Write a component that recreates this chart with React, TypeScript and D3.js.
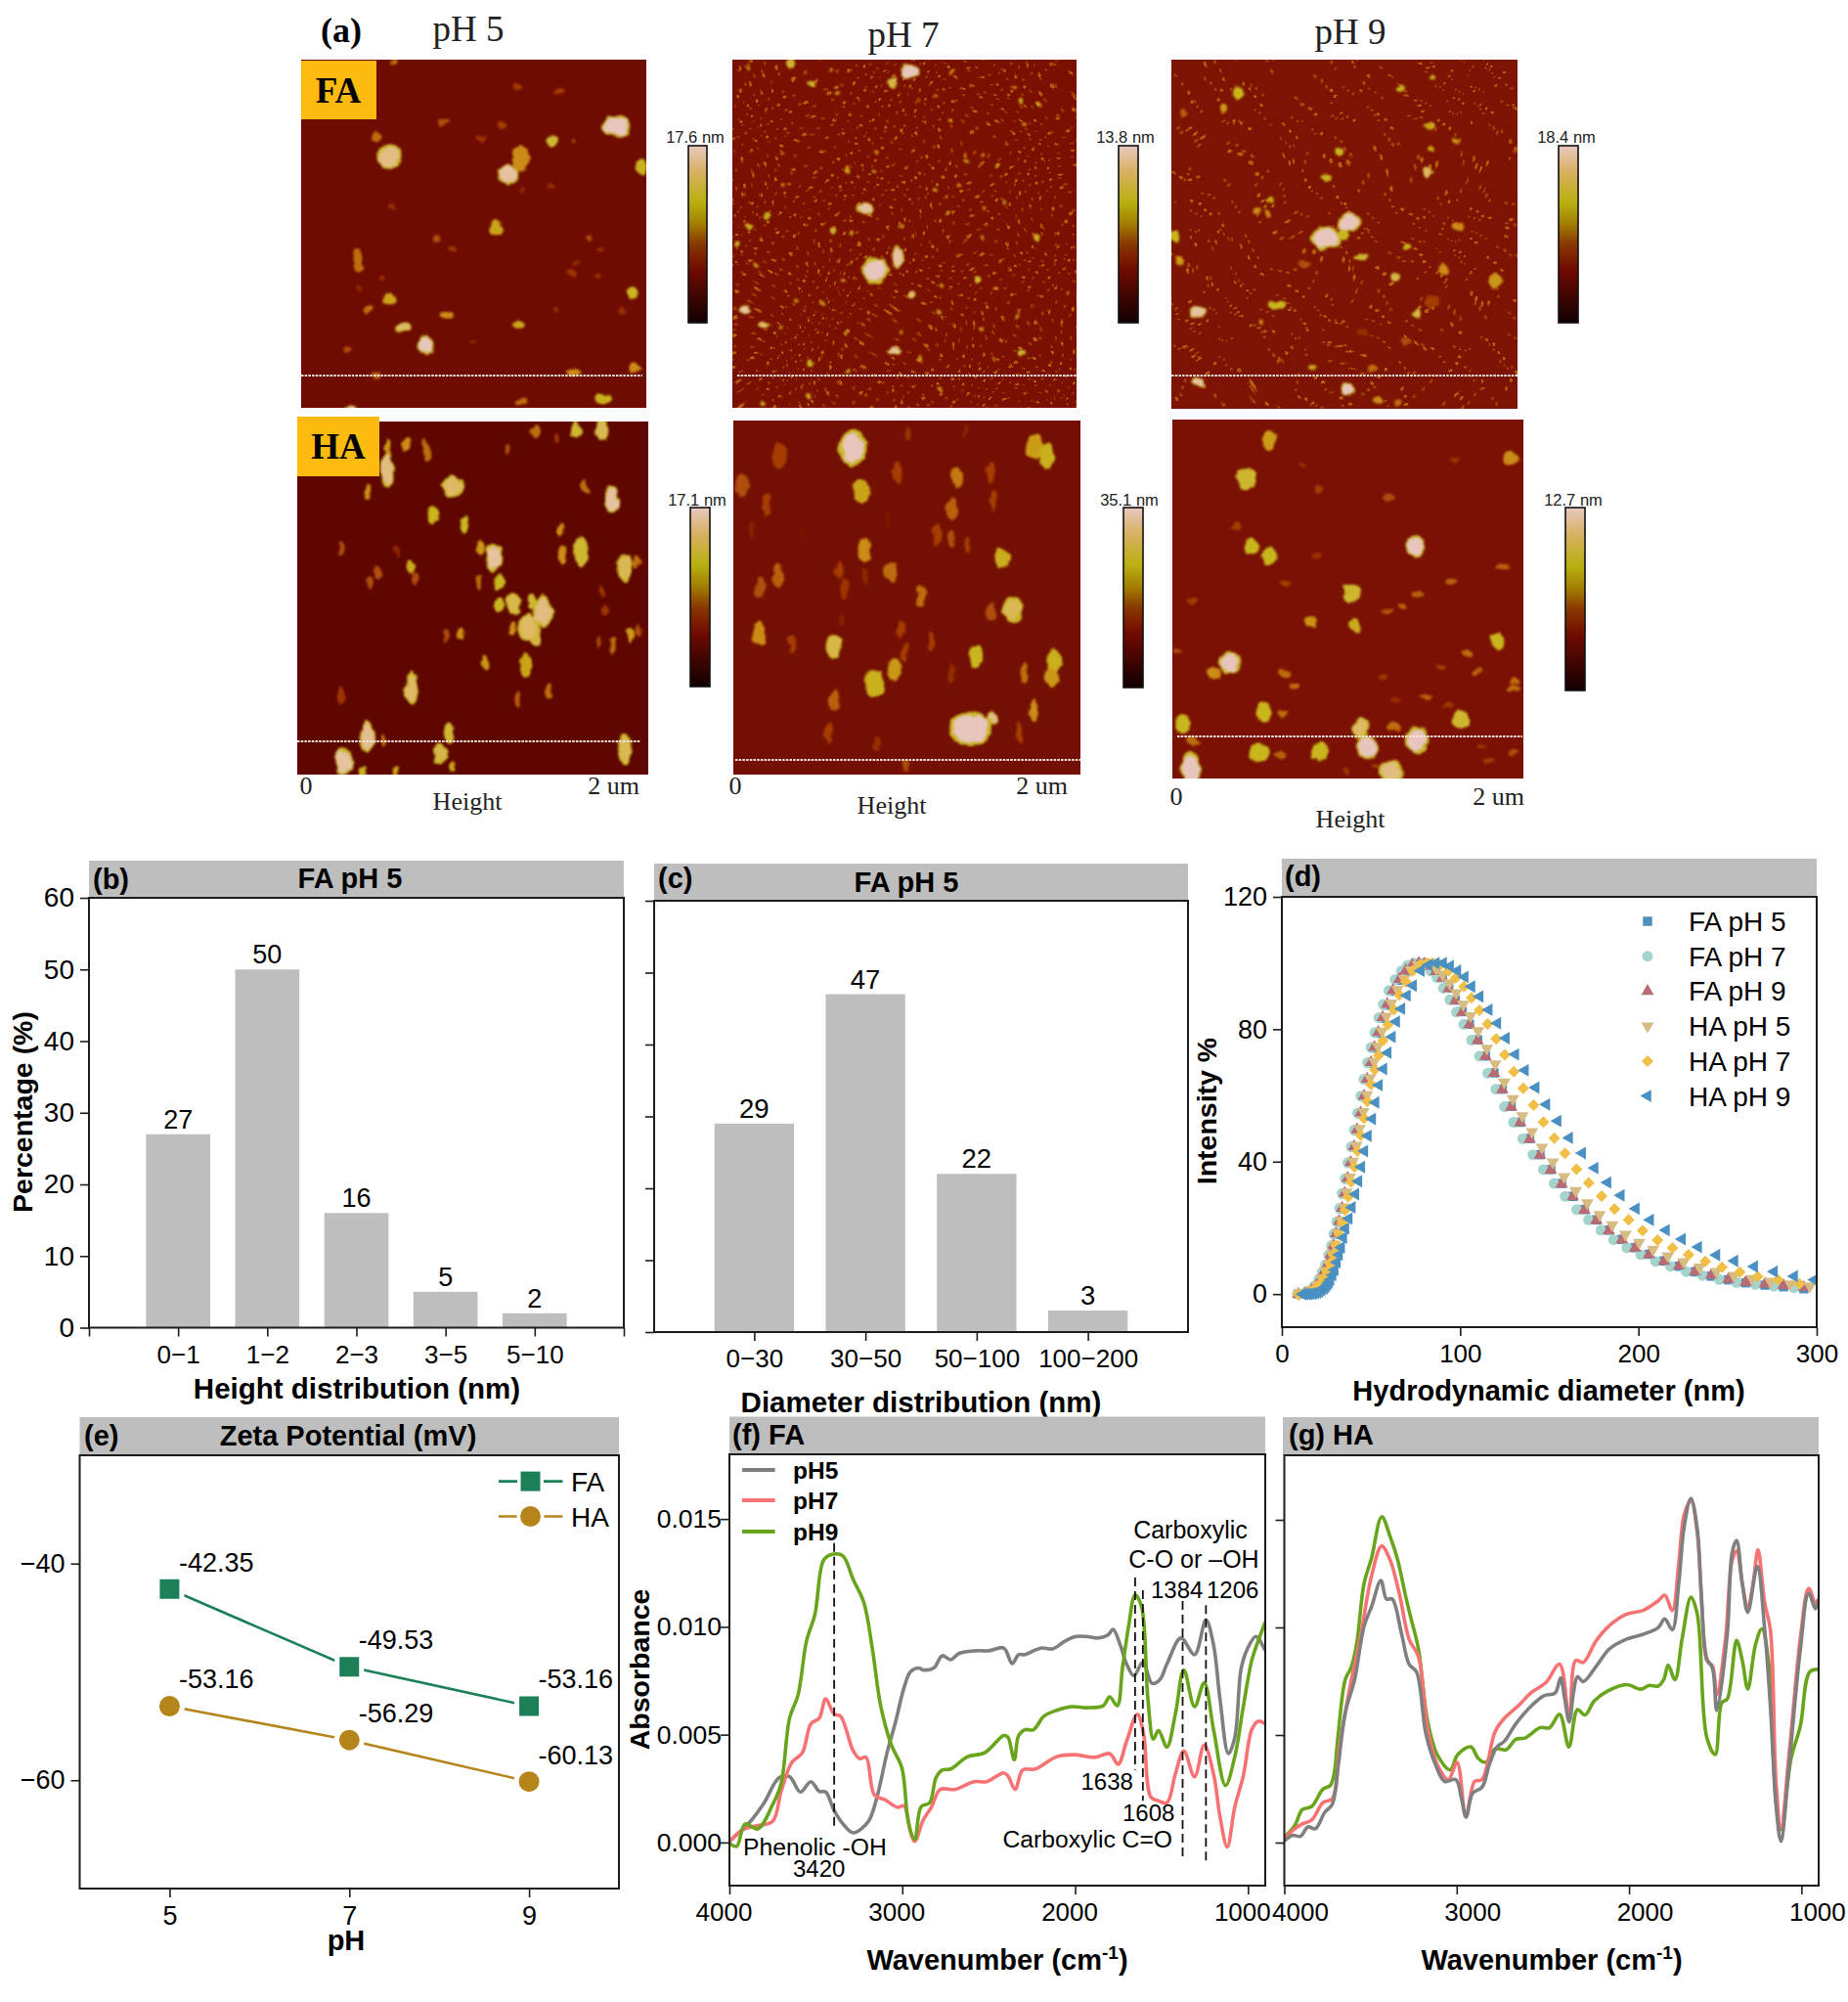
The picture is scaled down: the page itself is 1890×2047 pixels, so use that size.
import React, { useEffect, useRef } from 'react';
import * as d3 from 'd3';

const SANS = '"Liberation Sans", Arial, sans-serif';
const SERIF = '"Liberation Serif", "Times New Roman", serif';
const HEADER = '#bebebe';
const INK = '#1c1c1c';

// --- (b) (c) bars ---
const heightBins = ['0\u22121', '1\u22122', '2\u22123', '3\u22125', '5\u221210'];
const heightPct = [27, 50, 16, 5, 2];
const diamBins = ['0\u221230', '30\u221250', '50\u2212100', '100\u2212200'];
const diamPct = [29, 47, 22, 3];

// --- (d) DLS ---
const faDiam = [9.2, 12.8, 16.4, 19.3, 21.7, 23.7, 25.6, 27.3, 29, 30.4, 32.1, 33.8, 35.2, 36.9, 38.6, 40.5, 42.2, 44.2, 46.1, 47.8, 50, 51.9, 54.1, 56.5, 59.1, 62.3, 65.9, 69.5, 73.1, 76.8, 79.9, 83, 86.4, 90, 93.6, 97.3, 101.1, 105.2, 109.8, 114.2, 119, 123.6, 128.6, 133.7, 139, 144.8, 150.8, 156.9, 163.2, 169.7, 176.4, 183.4, 190.7, 198.1, 205.9, 214.3, 222.8, 231.7, 240.9, 250.5, 260.2, 271, 281.4, 292.8];
const faPh9Int = [0, 0.2, 1.1, 2.5, 4.5, 6.8, 9, 11.9, 14.7, 18.3, 22, 26, 30.5, 35, 39.8, 44.6, 49.7, 54.8, 59.9, 65, 70, 74.6, 79.1, 83.6, 87.6, 91.8, 95.1, 97.7, 99.4, 100, 99.8, 99.1, 97.5, 95.5, 92.3, 88.7, 85.1, 81.4, 76.6, 71.8, 66.7, 61.8, 56.5, 51.8, 46.8, 42, 37.5, 33.3, 29.4, 25.4, 22.3, 19.2, 16.4, 13.9, 11.9, 9.9, 8.5, 6.8, 5.7, 4.5, 3.6, 3.1, 2.6, 2];
const faPh5Int = [0, 0.1, 0.9, 2.3, 4.2, 6.5, 8.7, 11.6, 14.4, 18, 21.7, 25.7, 30.2, 34.7, 39.5, 44.3, 49.4, 54.5, 59.6, 64.7, 69.7, 74.3, 78.8, 83.3, 87.3, 91.5, 94.8, 97.4, 99.2, 99.9, 100, 99.2, 97.7, 95.6, 92.5, 88.8, 85.3, 81.5, 76.8, 71.9, 66.8, 61.9, 56.7, 51.9, 47, 42.1, 37.6, 33.4, 29.5, 25.5, 22.4, 19.3, 16.5, 14, 12, 10, 8.4, 6.7, 5.4, 4.3, 3.4, 2.7, 2.2, 1.6];
const fa7Diam = [8.8, 12.2, 15.6, 18.4, 20.7, 22.7, 24.5, 26.2, 27.8, 29.2, 30.8, 32.4, 33.8, 35.4, 37, 38.9, 40.6, 42.5, 44.3, 46, 48.1, 50, 52.1, 54.4, 56.9, 60, 63.5, 67, 70.5, 74.1, 77.1, 80.2, 83.5, 87, 90.6, 94.2, 97.9, 102, 106.4, 110.8, 115.5, 120, 124.9, 129.9, 135.1, 140.8, 146.7, 152.7, 158.9, 165.4, 172, 178.9, 186.1, 193.5, 201.3, 209.6, 218, 226.8, 235.9, 245.4, 255, 265.6, 276, 287.3];
const faPh7Int = [0, 0.2, 1, 2.4, 4.4, 6.7, 8.9, 11.8, 14.6, 18.2, 21.9, 25.9, 30.4, 34.9, 39.7, 44.5, 49.6, 54.7, 59.8, 64.9, 69.9, 74.5, 79, 83.5, 87.5, 91.7, 95, 97.6, 99.3, 100, 99.9, 99.2, 97.6, 95.6, 92.4, 88.9, 85.2, 81.5, 76.7, 71.9, 66.7, 61.9, 56.6, 51.9, 46.9, 42.1, 37.6, 33.4, 29.5, 25.5, 22.4, 19.3, 16.4, 14, 11.9, 9.9, 8.4, 6.8, 5.6, 4.4, 3.5, 2.9, 2.4, 1.9];
const ha5Diam = [9.5, 13.2, 16.9, 19.9, 22.4, 24.4, 26.4, 28.1, 29.9, 31.4, 33.1, 34.9, 36.3, 38.1, 39.9, 41.8, 43.6, 45.7, 47.7, 49.5, 51.8, 53.8, 56.1, 58.6, 61.4, 64.8, 68.6, 72.4, 76.2, 80, 83.3, 86.6, 90.2, 94, 97.8, 101.7, 105.8, 110.1, 115, 119.7, 124.7, 129.6, 134.9, 140.3, 145.9, 152, 158.3, 164.8, 171.4, 178.2, 185.3, 192.7, 200.4, 208.2, 216.5, 225.4, 234.3, 243.7, 253.5, 263.7, 273.9, 285.2, 296.2];
const haPh5Int = [0, 0.2, 1.2, 2.7, 4.8, 7.1, 9.3, 12.2, 15, 18.6, 22.3, 26.3, 30.8, 35.3, 40.1, 44.9, 50, 55.1, 60.2, 65.3, 70.3, 74.9, 79.4, 83.9, 87.9, 92, 95.3, 97.9, 99.5, 100, 99.8, 98.3, 96.5, 94, 91, 87.5, 84, 79.5, 74.2, 69.5, 64, 59, 53.8, 49, 44.3, 39.9, 35.4, 31.2, 27.5, 24, 20.9, 18, 15.6, 13.5, 11.5, 9.7, 8.1, 6.8, 5.6, 4.6, 3.8, 3, 2.4];
const haPh7: [number, number][] = [[9.2, 0], [12.8, 0.2], [16.4, 0.9], [19.3, 2], [21.7, 3.4], [23.7, 5.1], [25.6, 7], [27.3, 9.3], [29, 11.9], [30.4, 14.7], [32.1, 18.1], [33.8, 21.5], [35.5, 25.4], [37.2, 29.4], [38.9, 33.9], [40.8, 38.4], [42.5, 43.2], [44.2, 48], [46.1, 53.1], [48, 58.2], [50, 63.3], [52.1, 67.8], [54.3, 72.1], [56.7, 76.6], [59.4, 81.4], [62.8, 85.9], [65.9, 90.4], [69.5, 94.4], [73.6, 97.7], [78, 99.4], [81.6, 100], [84.7, 100], [88.8, 99.4], [93.6, 97.7], [97.5, 95.5], [102.1, 92.9], [106.4, 89.5], [110.8, 85.7], [115.4, 81.6], [120.2, 77.1], [125, 72.3], [130.1, 67.2], [135.4, 62.2], [141.2, 57.1], [146.7, 52], [152.8, 47.1], [158.8, 42.5], [165.3, 37.7], [172.1, 33.6], [179.3, 29.6], [186.6, 25.7], [194.5, 22.4], [202.3, 19.2], [210.7, 16.3], [219.1, 13.9], [228.1, 11.9], [237.5, 9.9], [246.9, 8.1], [256.8, 6.6], [266.9, 5.3], [278.3, 4.3], [290.3, 3.1]];
const haPh9: [number, number][] = [[11.6, 0], [12.8, 0], [14, 0], [15.2, 0], [16.4, 0.1], [17.6, 0.2], [18.8, 0.3], [20, 0.5], [21.2, 0.8], [22.4, 1.2], [23.7, 1.7], [24.6, 2.2], [25.6, 2.8], [26.4, 3.5], [27.3, 4.3], [28.5, 5.7], [29.7, 7.3], [30.9, 9.6], [32.1, 11.9], [33.3, 14.1], [34.5, 17], [35.7, 19.8], [37.6, 22.8], [39.3, 26.2], [41.3, 30.2], [43, 34.1], [44.6, 38.4], [46.3, 43.2], [48.3, 47.8], [50.7, 52.9], [52.6, 57.9], [54.5, 63.1], [57, 68], [59.4, 72.9], [61.8, 77.7], [64.2, 82.3], [67.1, 86.2], [70.2, 90.2], [73.6, 93.2], [78, 97.7], [82.3, 99.4], [86.4, 100], [90.5, 100], [94.4, 99.1], [98.5, 97.7], [102.6, 95.8], [106.4, 92.9], [111, 89.9], [116.1, 85.9], [120.9, 81.8], [125.7, 77.3], [131, 72.4], [136.4, 67.6], [142.4, 62.4], [148.4, 57.3], [154.7, 52.3], [161.2, 47.2], [168.5, 42.6], [175.5, 38.1], [182.7, 33.7], [190.2, 29.8], [198.6, 25.8], [206.6, 22.4], [215.5, 19.3], [224.5, 16.6], [233.6, 14.2], [243.8, 11.8], [253.9, 10], [265, 8.3], [276.1, 6.8], [287.4, 5.4], [298.8, 4.3]];
const dlsNames = ['FA pH 5', 'FA pH 7', 'FA pH 9', 'HA pH 5', 'HA pH 7', 'HA pH 9'];

// --- (e) zeta ---
const phLevels = [5, 7, 9];
const zetaFA = [-42.35, -49.53, -53.16];
const zetaHA = [-53.16, -56.29, -60.13];

// --- (f) FA spectra: [wavenumber, absorbance x 1000] ---
const fPh5: [number, number][] = [[4000, 0.05], [3872, 1.04], [3799, 1.84], [3713, 3], [3652, 3.05], [3590, 2.34], [3529, 2.82], [3480, 2.37], [3443, 2.34], [3394, 1.48], [3333, 0.77], [3284, 0.45], [3198, 0.95], [3149, 2.02], [3088, 4.16], [3039, 5.59], [2989, 7.2], [2953, 7.91], [2904, 8.09], [2879, 8], [2818, 8.09], [2769, 8.66], [2720, 8.48], [2671, 8.77], [2572, 8.89], [2499, 8.89], [2413, 9.02], [2364, 8.3], [2327, 8.71], [2290, 8.71], [2241, 8.89], [2192, 9.02], [2131, 8.98], [2057, 9.34], [1996, 9.55], [1935, 9.55], [1873, 9.48], [1812, 9.61], [1780, 9.88], [1739, 9.16], [1702, 8.27], [1660, 7.73], [1608, 8.36], [1555, 7.38], [1510, 7.55], [1469, 8.27], [1388, 9.48], [1309, 8.71], [1243, 10.32], [1199, 9.16], [1162, 6.66], [1113, 4.12], [1076, 4.88], [1039, 8.09], [1003, 8.98], [954, 9.55], [900, 8.89]];
const fPh7: [number, number][] = [[4000, 0.05], [3922, 0.59], [3848, 0.77], [3750, 0.98], [3701, 2.37], [3639, 3.71], [3578, 4.16], [3529, 5.5], [3480, 5.77], [3443, 6.66], [3394, 5.95], [3357, 5.86], [3284, 4.25], [3247, 3.89], [3210, 3.95], [3161, 2.2], [3100, 1.98], [3026, 1.63], [2989, 1.7], [2953, 0.5], [2928, 0.05], [2879, 1.04], [2830, 1.66], [2781, 2.46], [2695, 2.46], [2585, 2.82], [2511, 2.82], [2413, 3.23], [2389, 3.09], [2347, 2.46], [2303, 3.36], [2229, 3.41], [2106, 3.98], [2008, 4.07], [1886, 3.95], [1800, 4.12], [1751, 3.63], [1702, 4.7], [1640, 5.95], [1604, 5.05], [1562, 2.11], [1518, 1.93], [1469, 1.84], [1420, 3.18], [1371, 4.25], [1309, 3.05], [1253, 4.52], [1199, 3.18], [1162, 1.21], [1120, -0.21], [1076, 1.66], [1027, 3.09], [978, 5.23], [941, 5.62], [900, 5.5]];
const fPh9: [number, number][] = [[4000, -0.04], [3958, -0.18], [3909, 0.86], [3836, 0.63], [3750, 1.75], [3701, 2.73], [3652, 5.77], [3603, 6.84], [3554, 9.34], [3505, 10.59], [3455, 13.09], [3406, 13.36], [3345, 13.3], [3284, 12.2], [3222, 11.12], [3173, 8.98], [3124, 6.3], [3063, 4.52], [3002, 3.45], [2965, 0.95], [2928, 0.14], [2891, 1.66], [2842, 1.84], [2805, 3], [2769, 3.36], [2720, 3.41], [2622, 3.98], [2523, 4.16], [2413, 4.96], [2389, 4.88], [2352, 3.84], [2327, 4.96], [2290, 5.23], [2241, 5.23], [2180, 5.86], [2106, 6.13], [2021, 6.3], [1935, 6.25], [1837, 6.34], [1800, 6.75], [1756, 6.34], [1726, 8.09], [1690, 10.05], [1653, 11.48], [1616, 10.95], [1579, 6.66], [1547, 4.79], [1518, 5.2], [1469, 4.43], [1420, 5.95], [1371, 8], [1309, 6.3], [1253, 7.41], [1199, 5.23], [1130, 2.64], [1076, 3.98], [1027, 6.3], [978, 8.45], [941, 9.34], [900, 10.23]];

// --- (g) HA spectra ---
const gPh5: [number, number][] = [[4000, 0.07], [3950, 0.34], [3907, 0.29], [3863, 0.73], [3820, 0.64], [3765, 1.41], [3722, 1.77], [3689, 3.46], [3646, 6.05], [3592, 7.57], [3537, 10.07], [3494, 10.96], [3440, 12.18], [3407, 11.32], [3374, 11.32], [3320, 9.71], [3276, 8.29], [3233, 7.93], [3179, 5.07], [3124, 3.64], [3070, 2.84], [3005, 2.93], [2972, 2.04], [2946, 1.18], [2907, 2.3], [2853, 2.57], [2810, 3.64], [2766, 4.45], [2723, 4.71], [2657, 5.52], [2571, 6.32], [2494, 6.82], [2429, 6.95], [2397, 7.66], [2375, 6.77], [2347, 5.61], [2321, 7.04], [2299, 7.71], [2266, 7.48], [2190, 8.2], [2114, 9], [2016, 9.45], [1919, 9.68], [1832, 9.98], [1793, 10.39], [1749, 9.89], [1712, 12.03], [1680, 14.7], [1641, 16], [1604, 14.55], [1582, 11.68], [1549, 8.55], [1516, 8.11], [1491, 6.14], [1430, 9.71], [1402, 13.47], [1376, 14.04], [1343, 12.03], [1311, 10.7], [1256, 12.84], [1213, 9.89], [1180, 6.32], [1147, 1.68], [1119, 0.07], [1071, 3.64], [1006, 9], [958, 11.59], [919, 10.87], [900, 11.32]];
const gPh7: [number, number][] = [[4000, 0.16], [3950, 0.57], [3896, 0.87], [3841, 1.05], [3776, 1.86], [3722, 2.04], [3678, 4.53], [3624, 7.03], [3559, 9.52], [3494, 12.39], [3435, 13.78], [3385, 13.11], [3331, 11.5], [3276, 9.45], [3222, 8.64], [3168, 5.25], [3113, 3.64], [3048, 2.93], [2998, 3.73], [2946, 1.23], [2896, 2.84], [2853, 2.93], [2777, 5.16], [2723, 5.78], [2636, 6.41], [2571, 6.95], [2483, 7.43], [2403, 8.29], [2347, 5.78], [2310, 8.46], [2266, 8.37], [2190, 9.39], [2103, 10.16], [2016, 10.61], [1919, 10.79], [1832, 11.23], [1793, 11.5], [1749, 10.79], [1712, 12.93], [1680, 15.25], [1641, 15.89], [1604, 14.37], [1576, 10.79], [1549, 8.46], [1516, 8.2], [1491, 6.86], [1441, 9.45], [1402, 13.11], [1376, 13.56], [1343, 12.03], [1311, 10.88], [1278, 12.2], [1252, 13.61], [1213, 11.14], [1180, 9.89], [1147, 2.75], [1119, 0.7], [1071, 4.17], [1006, 9.54], [958, 11.82], [919, 11.14], [900, 11.32]];
const gPh9: [number, number][] = [[4000, 0.25], [3939, 0.79], [3896, 1.53], [3841, 1.68], [3776, 2.48], [3733, 2.66], [3711, 3.2], [3689, 4.9], [3646, 7.59], [3613, 8.12], [3581, 9.2], [3537, 12.06], [3494, 13.22], [3435, 15.14], [3385, 14.2], [3342, 13.13], [3298, 11.52], [3266, 10.45], [3222, 9], [3168, 5.61], [3113, 4.09], [3038, 3.38], [2994, 4.09], [2918, 4.45], [2875, 3.91], [2831, 3.73], [2777, 4.36], [2712, 4.32], [2657, 4.8], [2603, 4.86], [2516, 5.34], [2462, 5.34], [2403, 5.96], [2349, 4.45], [2299, 6.18], [2256, 5.93], [2201, 6.59], [2125, 7.04], [2016, 7.34], [1930, 7.13], [1886, 7.3], [1832, 7.27], [1799, 7.57], [1773, 8.25], [1734, 7.57], [1691, 9.54], [1641, 11.41], [1604, 10.61], [1549, 4.89], [1500, 4.09], [1462, 6.5], [1430, 6.68], [1376, 9.39], [1343, 8.46], [1311, 7.13], [1267, 9.18], [1230, 9.93], [1191, 8.46], [1147, 1.86], [1119, 0.61], [1060, 3.91], [1006, 5.43], [952, 7.93], [900, 8.05]];
const absorbTicks = [0, 5, 10, 15];
const waveTicks = [4000, 3000, 2000, 1000];
const specNames = ['pH5', 'pH7', 'pH9'];

// --- (a) AFM particles: [x %, y %, rx %, ry %, height 0..1] ---
type Blob = [number, number, number, number, number];
const afmFa5: Blob[] = [[91, 19.2, 4.3, 3.1, 1], [25.6, 28, 3.7, 3.4, 0.9], [60, 33, 3, 2.8, 0.95], [63.6, 28.6, 2.3, 3.5, 0.55], [72.7, 23.2, 1.8, 1.5, 0.75], [56.4, 48.4, 1.7, 2.3, 0.65], [16.3, 57.7, 1.7, 3.5, 0.5], [25.6, 68.7, 1.8, 1.7, 0.65], [95.8, 66.7, 1.8, 1.8, 0.72], [29.6, 76.8, 2, 1.5, 0.85], [36, 81.9, 2.4, 2.7, 1], [63.3, 76.2, 1.8, 1.3, 0.65], [42.3, 73.2, 1.6, 1.2, 0.55], [19.2, 71.8, 1.5, 1.1, 0.5], [98.7, 30.5, 1.4, 2.5, 0.7], [87.4, 97.4, 2.4, 1.6, 0.7], [78.8, 90, 1.9, 1.4, 0.55], [96.8, 88.7, 1.8, 1.1, 0.55], [21.7, 90.8, 1.3, 1, 0.5], [13.1, 83.4, 1.5, 1, 0.45], [21.8, 22.3, 1.6, 1.2, 0.5], [41.2, 18.1, 1.4, 1.1, 0.45], [58.2, 18.8, 1.2, 0.9, 0.42], [62.8, 7.8, 1.3, 1, 0.42], [74.7, 9.4, 1.3, 0.9, 0.42], [27, 1, 1.2, 0.9, 0.5], [78.7, 23.5, 1, 0.7, 0.42], [52, 22.5, 1, 0.8, 0.4], [26, 42, 1.1, 0.8, 0.38], [39.3, 51.6, 1.2, 1, 0.45], [43.8, 54.6, 1.2, 0.8, 0.42], [83.5, 50.9, 1, 1, 0.45], [86.7, 54.7, 1, 0.7, 0.4], [79.5, 58.5, 0.9, 0.7, 0.38], [78.3, 61.3, 1.4, 1, 0.4], [85.9, 62.3, 1, 0.7, 0.38], [23.8, 62.9, 1, 0.8, 0.4], [16.9, 65.5, 0.9, 0.7, 0.36], [73.7, 72, 1, 0.8, 0.38], [92.8, 72.3, 1, 0.8, 0.38], [63.6, 98.3, 1.8, 1, 0.5], [14.5, 99.8, 1.8, 0.8, 0.9], [49.9, 81, 1, 0.7, 0.36], [72, 36.4, 1, 0.8, 0.38], [63.6, 37.6, 1, 0.7, 0.36]];
const afmFa7: Blob[] = [[41.4, 60.6, 4.4, 3.8, 1], [48, 56.9, 1.8, 3.2, 0.95], [38.5, 42.8, 2.6, 1.9, 0.95], [51.2, 3.3, 2.7, 2, 1], [52.3, 67.4, 1.5, 1.2, 0.85], [47.2, 83.9, 2, 1.3, 0.95], [3.7, 71.7, 1.8, 1.4, 0.95], [9, 76.1, 1.7, 1.2, 0.85], [46.5, 6.7, 1.2, 1.5, 0.8], [23.3, 7, 1.1, 0.9, 0.75], [17, 1.1, 1.2, 1.2, 0.75], [71.4, 63.4, 1.2, 0.7, 0.75], [29.3, 49.4, 0.9, 1.3, 0.75], [83.8, 12.1, 0.9, 1, 0.7], [88.4, 51.3, 0.9, 1, 0.7], [84.1, 84.5, 0.9, 0.9, 0.75], [22.6, 87.3, 0.9, 1, 0.7], [10, 44.9, 0.9, 0.8, 0.7], [4.6, 48, 1.1, 0.7, 0.7], [1.4, 53.1, 0.9, 0.8, 0.7], [33.5, 31.6, 0.5, 1.2, 0.65],
  [41.8, 26.9, 0.7, 0.7, 0.62], [14.2, 27.1, 0.6, 0.5, 0.6], [14.8, 36.1, 0.7, 0.7, 0.62], [41.5, 32, 0.6, 0.6, 0.6], [62.8, 44.4, 0.6, 0.6, 0.6], [73.3, 42.1, 0.6, 0.6, 0.6], [78.7, 41.1, 0.6, 0.6, 0.58], [49.4, 47.8, 0.7, 0.7, 0.62], [34.9, 50.1, 0.6, 0.6, 0.6], [7.1, 58.9, 0.7, 0.6, 0.62], [32.3, 63.6, 0.7, 0.7, 0.62], [60.2, 64.7, 0.6, 0.7, 0.6], [76.1, 65.8, 0.7, 0.5, 0.6], [26.4, 70.2, 0.6, 0.7, 0.62], [18.5, 69.8, 0.6, 0.6, 0.58], [82.7, 73.6, 0.6, 0.6, 0.6], [60.2, 72.6, 0.6, 0.6, 0.6], [14.2, 77, 0.7, 0.6, 0.62], [32.7, 78.6, 0.7, 0.7, 0.64], [48.9, 78, 0.6, 0.7, 0.62], [72.2, 77.7, 0.6, 0.6, 0.6], [54.3, 85.9, 0.6, 0.7, 0.62], [76.1, 85.8, 0.6, 0.6, 0.6], [33.8, 89.7, 0.7, 0.7, 0.65], [60.2, 94.8, 0.6, 0.7, 0.62], [8.8, 98.6, 0.7, 0.6, 0.65], [22.6, 96.7, 0.7, 0.8, 0.62], [63, 18, 0.6, 0.6, 0.62], [82, 8.3, 0.6, 0.7, 0.62], [89.2, 13.3, 0.7, 0.7, 0.62], [72.6, 26.9, 0.7, 0.5, 0.6], [77, 30.5, 0.7, 0.6, 0.6], [68.2, 29.2, 0.6, 0.6, 0.58], [58.8, 37.2, 0.6, 0.7, 0.6], [66, 35.8, 0.9, 0.5, 0.55], [72.5, 51.3, 0.6, 0.6, 0.58], [59.4, 10, 0.6, 0.6, 0.58], [30.5, 9.6, 0.5, 0.6, 0.58], [53.7, 11, 0.5, 0.6, 0.55], [63.9, 3.7, 0.5, 0.7, 0.6], [28.4, 2.7, 0.6, 0.6, 0.6], [4.6, 2, 0.7, 0.6, 0.62], [85, 18.5, 0.6, 0.6, 0.58]];
const afmFa9: Blob[] = [[44.6, 51.1, 4.6, 3.3, 1], [51.3, 46.6, 3.3, 2.8, 1], [50, 50.2, 1.2, 1.5, 0.72], [7.6, 72.4, 2.3, 1.5, 0.95], [7.6, 92.4, 1.8, 1.5, 0.95], [50.8, 94.3, 2.1, 1.9, 1], [30.7, 70.3, 2.8, 1.3, 0.72], [54.9, 56.4, 2, 1.1, 0.75], [64.7, 62.1, 1.4, 1.4, 0.8], [70.7, 72.6, 1.3, 1.5, 0.8], [74.3, 32, 1.4, 1.5, 0.85], [44.6, 33.8, 1.7, 1.2, 0.7], [19.2, 9.5, 1.6, 1.9, 0.72], [15.1, 13.9, 1, 1.5, 0.6], [93.5, 63.3, 1.9, 2, 0.6], [78.7, 60, 1.3, 2, 0.55], [83, 47.9, 1.8, 1.4, 0.55], [74.7, 18.9, 1.5, 1.1, 0.65], [75.4, 5.3, 1.2, 1, 0.65], [66.2, 8.3, 1, 0.9, 0.72], [48.4, 26.4, 1.1, 1, 0.72], [68.2, 53.2, 1.1, 1, 0.72], [75.2, 25.7, 0.8, 0.8, 0.65], [82.1, 23.3, 1.3, 0.9, 0.55], [1.1, 50.2, 1.4, 1.8, 0.72], [2.2, 57.4, 1.1, 0.9, 0.6], [3.5, 15.1, 1.2, 1.1, 0.48], [28.3, 40.1, 1, 0.9, 0.65], [24.7, 43.6, 1.1, 1, 0.55], [28, 44.1, 0.9, 1, 0.55], [38.3, 58.6, 1.5, 1.2, 0.45], [59.5, 97.4, 1.4, 1.2, 0.55], [65.4, 98, 1.2, 1, 0.5], [40.8, 88, 1, 0.9, 0.65], [58.4, 88.5, 1.6, 1, 0.5], [75.2, 69.3, 2.2, 1.8, 0.42], [67.4, 80.6, 1.4, 1, 0.45], [55.1, 78.2, 1.5, 1.2, 0.38], [26.3, 75.4, 0.8, 0.8, 0.55]];
const afmHa5: Blob[] = [[44.4, 18.5, 3, 3, 0.85], [25.6, 13.7, 2, 5, 0.9], [89.6, 22, 2.2, 4, 0.95], [38.7, 26.1, 1.5, 2.6, 0.72], [47.6, 29.2, 1.3, 2.5, 0.72], [56.1, 38.6, 2.5, 4, 0.95], [52.3, 35.8, 1.4, 2, 0.6], [57.6, 45.5, 1.5, 2.5, 0.72], [80.8, 36.8, 2.2, 4, 0.75], [75.5, 38.1, 1.2, 2.5, 0.55], [93.3, 41.4, 2.2, 4, 0.82], [32.3, 41.2, 1.2, 2, 0.68], [23, 42.8, 1, 2, 0.45], [33.5, 44.6, 0.9, 2, 0.45], [21, 45.5, 1, 2, 0.45], [61.5, 51.5, 2.2, 3, 0.8], [57.3, 52.2, 1.6, 2.4, 0.72], [66.8, 51, 1.4, 2.2, 0.75], [70, 53.6, 2.8, 4.5, 0.9], [65.8, 58.4, 2.8, 4, 0.85], [67.7, 60.8, 1.8, 2.6, 0.78], [61.5, 58.9, 1, 2, 0.55], [46.9, 60.3, 1.1, 2, 0.55], [42.3, 60.8, 0.9, 2, 0.45], [65.1, 69, 1.8, 3.2, 0.65], [53.4, 68.3, 1.1, 2.2, 0.6], [32.6, 75.5, 2, 4.5, 0.85], [71.8, 76.6, 1, 2.2, 0.5], [62.7, 78.8, 1, 2.2, 0.48], [12.4, 77.4, 1.1, 2.5, 0.4], [19.8, 89.4, 2.2, 4.5, 0.92], [13.1, 96.3, 2.4, 4, 0.95], [43.3, 88, 1.6, 2.8, 0.75], [40.6, 94, 2, 3.2, 0.8], [93.3, 92.6, 1.9, 4.2, 0.82], [18.5, 99, 1, 1.5, 0.7], [44.2, 97.7, 1, 1.7, 0.65], [24.8, 90.3, 0.8, 1.8, 0.5], [28.3, 99, 0.8, 1.2, 0.65], [12.4, 35.8, 0.8, 1.8, 0.45], [28.5, 36.9, 0.7, 1.6, 0.35], [20.2, 20, 1.1, 2.2, 0.55], [25.6, 7.4, 1, 2.4, 0.6], [30.9, 6.3, 1.3, 2.2, 0.55], [36.6, 7, 1, 2.6, 0.5], [37.3, 9.5, 1, 2, 0.5], [67.9, 3, 1.2, 1.8, 0.5], [79.3, 2.4, 1.3, 2.4, 0.75], [86.7, 2.6, 2, 3, 0.82], [59.8, 7.7, 0.8, 1.8, 0.45], [73.6, 4.9, 0.6, 1.5, 0.4], [81.9, 18.3, 0.9, 2, 0.5], [75.1, 30.7, 0.8, 2, 0.55], [96.7, 40, 1, 2, 0.5], [86.9, 48.3, 0.6, 1.8, 0.4], [87.9, 53.4, 0.8, 1.8, 0.4], [95, 60.3, 1.2, 2.2, 0.6], [89.7, 63.5, 1, 2.4, 0.5], [86, 62.4, 0.7, 1.6, 0.45], [97.2, 58.9, 0.7, 1.8, 0.45], [51.8, 45.5, 0.8, 2, 0.5]];
const afmHa7: Blob[] = [[34.5, 7.7, 4, 5, 1], [37.1, 20, 2.3, 3.5, 0.65], [86.8, 7.4, 2.5, 3.5, 0.62], [90.4, 10, 2.2, 3.5, 0.7], [68.3, 87, 6, 5, 1], [74.5, 84.2, 1.5, 2, 0.9], [80.7, 53.4, 3, 3.8, 0.82], [28.9, 63.9, 2.3, 3.4, 0.8], [69.9, 66.7, 2, 3.2, 0.72], [46.5, 70.4, 2, 3, 0.6], [40.6, 74.4, 2.8, 4, 0.7], [77.4, 38.7, 2.4, 3, 0.68], [37.8, 36.3, 1.9, 3.2, 0.55], [45.4, 42.8, 2, 3, 0.5], [7.6, 60.3, 2, 3.5, 0.55], [12.9, 43.7, 1.6, 3.5, 0.48], [7.6, 47, 1.4, 3, 0.45], [30.6, 42.3, 1.2, 2.5, 0.42], [32, 47.4, 1.2, 3, 0.4], [2.6, 18.4, 2, 3.4, 0.45], [13.4, 10.1, 2, 3.5, 0.42], [9.5, 23.9, 1.4, 3, 0.42], [47.2, 14.7, 1.4, 3, 0.42], [64.5, 16.1, 1.7, 3, 0.52], [63, 24.8, 1.8, 3.2, 0.48], [74.3, 14.7, 1.2, 3, 0.42], [74.9, 22.5, 1.2, 2.8, 0.42], [58.7, 32.2, 1.5, 3, 0.42], [62.7, 33.6, 1.1, 2.6, 0.45], [67.3, 35, 1, 2.5, 0.42], [54.1, 49.7, 1.4, 3, 0.5], [74.1, 53.8, 1.3, 3, 0.45], [48.3, 58.9, 1, 2.5, 0.42], [49.3, 64.9, 1, 2.8, 0.42], [57, 62.6, 0.9, 2.6, 0.42], [17, 63, 1.1, 2.8, 0.42], [29.2, 79.1, 1.4, 3, 0.48], [83.9, 71.3, 1.2, 3, 0.5], [86.8, 81.9, 1.4, 3, 0.55], [92.5, 68, 2, 3.5, 0.7], [91.8, 72.7, 2, 3, 0.6], [27.5, 88.3, 1.1, 3, 0.42], [50.1, 3.7, 1, 2.2, 0.4], [5.5, 31.1, 0.8, 2.5, 0.35], [63, 71.1, 0.8, 2.5, 0.38], [82.4, 88.3, 1, 3, 0.42], [41.4, 91, 0.9, 2.4, 0.38], [49.7, 97.5, 1, 1.6, 0.45], [66.6, 2.8, 0.7, 2, 0.35], [19.9, 32.2, 0.6, 2, 0.3], [44.3, 28.5, 0.7, 2, 0.32], [38, 44.1, 0.9, 2.4, 0.36], [31.4, 56.1, 0.7, 2, 0.34]];
const afmHa9: Blob[] = [[5.2, 97.4, 2.8, 4.8, 1], [16.3, 67.7, 3, 3.2, 1], [69.2, 35.3, 2.8, 3, 1], [69.8, 89.2, 3.6, 3.8, 1], [55.6, 91.2, 3, 3.4, 1], [62.2, 98, 3.5, 3, 0.9], [53.4, 86.2, 2.7, 2.8, 0.85], [21.2, 16.4, 2.8, 3, 0.75], [51, 48.2, 2.6, 2.8, 0.75], [92.8, 61.9, 2.3, 2.4, 0.72], [82.1, 83.5, 2.4, 2.6, 0.75], [26, 81.6, 2.2, 2.8, 0.72], [2.8, 84.6, 2.2, 2.6, 0.72], [24.7, 92.8, 2.8, 2.6, 0.72], [42.1, 92.5, 2.5, 2.6, 0.72], [22.5, 35.3, 2, 2.4, 0.72], [27.6, 37.8, 2.2, 2.6, 0.72], [52, 57.5, 2, 2, 0.68], [39.5, 56.5, 1.8, 1.8, 0.58], [27.9, 5.9, 1.8, 2.5, 0.62], [96.6, 10.7, 1.8, 1.6, 0.55], [11.8, 70.5, 2, 1.4, 0.55], [31.7, 70.5, 1.9, 1.2, 0.5], [34.5, 74.4, 1.8, 0.9, 0.5], [31.7, 82.1, 1.7, 1, 0.5], [5.9, 89.8, 1.7, 1.4, 0.5], [30.6, 93.5, 1.9, 1.2, 0.48], [84.2, 65.3, 2, 1.2, 0.5], [86.9, 70, 1.6, 1, 0.48], [97.4, 73, 1.6, 1, 0.5], [97.1, 75.3, 1.6, 0.9, 0.5], [72.4, 77.5, 1.9, 1, 0.48], [63.3, 85.7, 1.8, 1.1, 0.5], [94.2, 41, 1.8, 1, 0.48], [79.4, 45.3, 1.7, 1, 0.48], [69.7, 48.6, 1.6, 0.9, 0.48], [65.5, 51.9, 1.6, 0.9, 0.48], [61.2, 53.4, 1.6, 0.8, 0.46], [32.2, 45.3, 1.8, 0.8, 0.42], [5.9, 50.3, 1.5, 0.8, 0.42], [18.2, 29.5, 1.4, 1.1, 0.42], [61.7, 21.6, 1.6, 1, 0.45], [41.8, 19.8, 1, 1.4, 0.42], [80.8, 11.4, 1.2, 0.8, 0.4], [41.3, 37.8, 1.2, 0.7, 0.4], [1.6, 64.6, 1.4, 1, 0.45], [76.4, 68.9, 1.5, 0.8, 0.42], [60.3, 71.6, 1.4, 0.7, 0.4], [78.3, 79.8, 1.6, 0.7, 0.4], [90.1, 95.1, 1.6, 0.8, 0.42], [97.1, 92.8, 1.6, 0.8, 0.45], [88, 90.9, 1.4, 0.7, 0.4], [58, 96.2, 1.4, 0.7, 0.42], [49.4, 97.8, 1.2, 0.7, 0.4], [63.8, 78.3, 1.3, 0.7, 0.38], [37, 12.5, 1, 0.9, 0.38]];

// fine background grain, one tile each
const grainFa7 = [[4, 8], [18, 3], [33, 12], [47, 5], [62, 14], [78, 7], [92, 16], [10, 27], [26, 34], [41, 25], [56, 36], [71, 29], [87, 38], [3, 47], [19, 56], [35, 49], [50, 58], [66, 51], [82, 60], [96, 53], [12, 72], [28, 79], [44, 70], [59, 81], [75, 74], [90, 83], [6, 91], [22, 97], [38, 90], [54, 96], [69, 92], [84, 98]];
const grainFa9 = [[6, 10], [10, 13], [15, 15], [20, 14], [38, 6], [42, 9], [45, 14], [48, 19], [70, 8], [75, 11], [79, 10], [90, 20], [93, 25], [12, 33], [17, 37], [20, 43], [24, 47], [55, 30], [60, 33], [64, 36], [69, 35], [85, 42], [82, 47], [78, 52], [35, 55], [31, 60], [28, 66], [5, 62], [8, 67], [52, 62], [57, 66], [60, 71], [63, 77], [88, 70], [93, 73], [97, 78], [14, 82], [19, 86], [24, 90], [40, 85], [45, 88], [50, 93], [75, 88], [79, 92], [84, 96], [3, 95]];

const colormapDomain = [0, 0.28, 0.42, 0.55, 0.72, 0.85, 1];
const colormapRange = ['#000000', '#6f0b00', '#a63c06', '#cc8b12', '#c9b51c', '#dfb965', '#e9c6bd'];
const afmColor = d3.scaleLinear<string>().domain(colormapDomain).range(colormapRange);
const barStops = [0, 0.3, 0.45, 0.55, 0.68, 0.85, 1];
const barColors = ['#100000', '#700a00', '#8a3a00', '#a07a00', '#b8b010', '#d8b060', '#e8c8c0'];

interface Box { x0: number; x1: number; y0: number; y1: number; }

const App: React.FC = () => {
  const svgRef = useRef<SVGSVGElement>(null);

  useEffect(() => {
    if (!svgRef.current) return;
    const svg = d3.select(svgRef.current);
    svg.selectAll('*').remove();
    const defs = svg.append('defs');

    const label = (x: number, y: number, s: string, size: number, opts: any = {}) =>
      svg.append('text')
        .attr('x', x).attr('y', y)
        .attr('font-family', opts.family || SANS)
        .attr('font-size', size)
        .attr('font-weight', opts.weight || 'normal')
        .attr('text-anchor', opts.anchor || 'start')
        .attr('fill', opts.fill || '#000')
        .attr('transform', opts.rotate ? `rotate(-90 ${x} ${y})` : null)
        .text(s);

    // ---------- (a) AFM ----------
    // edges of the particles are rough, so push them around a little before blurring
    const roughFilter = (id: string, freq: number, octaves: number, scale: number, blur: number) => {
      const fl = defs.append('filter').attr('id', id).attr('x', '-5%').attr('y', '-5%').attr('width', '110%').attr('height', '110%');
      fl.append('feTurbulence').attr('type', 'fractalNoise').attr('baseFrequency', freq).attr('numOctaves', octaves).attr('seed', 4).attr('result', 'n');
      fl.append('feDisplacementMap').attr('in', 'SourceGraphic').attr('in2', 'n').attr('scale', scale).attr('xChannelSelector', 'R').attr('yChannelSelector', 'G').attr('result', 'd');
      fl.append('feGaussianBlur').attr('in', 'd').attr('stdDeviation', blur);
    };
    roughFilter('afmRough', 0.09, 2, 8, 0.8);
    roughFilter('afmGrain', 0.012, 1, 70, 0.7);

    const addGrain = (id: string, tile: number[][], size: number, r: number, h: number) => {
      const p = defs.append('pattern').attr('id', id).attr('patternUnits', 'userSpaceOnUse').attr('width', size).attr('height', size);
      const s = d3.scaleLinear().domain([0, 100]).range([0, size]);
      p.selectAll('circle').data(tile).join('circle')
        .attr('cx', d => s(d[0])).attr('cy', d => s(d[1])).attr('r', r).attr('fill', afmColor(h));
    };
    addGrain('grainFa7', grainFa7, 92, 1.7, 0.48);
    addGrain('grainFa7b', grainFa7, 67, 1.3, 0.42);
    addGrain('grainFa9', grainFa9, 150, 1.8, 0.48);
    addGrain('grainFa9b', grainFa9, 113, 1.5, 0.43);

    const afmPanels = [
      { id: 'a1', x0: 308, x1: 661, y0: 61, y1: 417, bg: '#6f0c02', blobs: afmFa5, scan: 384, sx: [308, 657], grain: [] as string[] },
      { id: 'a2', x0: 749, x1: 1101, y0: 61, y1: 417, bg: '#7a1002', blobs: afmFa7, scan: 384, sx: [754, 1101], grain: ['grainFa7', 'grainFa7b'] },
      { id: 'a3', x0: 1198, x1: 1552, y0: 61, y1: 418, bg: '#7c1303', blobs: afmFa9, scan: 384, sx: [1198, 1552], grain: ['grainFa9', 'grainFa9b'] },
      { id: 'a4', x0: 304, x1: 663, y0: 431, y1: 792, bg: '#5f0600', blobs: afmHa5, scan: 758, sx: [304, 655], grain: [] as string[] },
      { id: 'a5', x0: 750, x1: 1105, y0: 430, y1: 792, bg: '#741003', blobs: afmHa7, scan: 777, sx: [752, 1105], grain: [] as string[] },
      { id: 'a6', x0: 1199, x1: 1558, y0: 429, y1: 796, bg: '#7a1104', blobs: afmHa9, scan: 753, sx: [1204, 1557], grain: [] as string[] },
    ];
    afmPanels.forEach(p => {
      const w = p.x1 - p.x0, h = p.y1 - p.y0;
      const sx = d3.scaleLinear().domain([0, 100]).range([p.x0, p.x1]);
      const sy = d3.scaleLinear().domain([0, 100]).range([p.y0, p.y1]);
      const srx = d3.scaleLinear().domain([0, 100]).range([0, w]);
      const sry = d3.scaleLinear().domain([0, 100]).range([0, h]);
      defs.append('clipPath').attr('id', 'clip-' + p.id).append('rect').attr('x', p.x0).attr('y', p.y0).attr('width', w).attr('height', h);
      const g = svg.append('g').attr('clip-path', `url(#clip-${p.id})`);
      g.append('rect').attr('x', p.x0).attr('y', p.y0).attr('width', w).attr('height', h).attr('fill', p.bg);
      p.grain.forEach(name => {
        g.append('rect').attr('x', p.x0 - 40).attr('y', p.y0 - 40).attr('width', w + 80).attr('height', h + 80)
          .attr('fill', `url(#${name})`).attr('filter', 'url(#afmGrain)');
      });
      const inner = g.append('g').attr('filter', 'url(#afmRough)');
      // rim first, then the pale core of tall particles
      inner.selectAll('ellipse.rim').data(p.blobs).join('ellipse').attr('class', 'rim')
        .attr('cx', d => sx(d[0])).attr('cy', d => sy(d[1]))
        .attr('rx', d => srx(d[2])).attr('ry', d => sry(d[3]))
        .attr('fill', d => afmColor(d[4] >= 0.8 ? 0.74 : d[4]));
      inner.selectAll('ellipse.core').data(p.blobs.filter(d => d[4] >= 0.8)).join('ellipse').attr('class', 'core')
        .attr('cx', d => sx(d[0])).attr('cy', d => sy(d[1]))
        .attr('rx', d => srx(d[2]) * 0.78).attr('ry', d => sry(d[3]) * 0.78)
        .attr('fill', d => afmColor(d[4]));
      g.append('line').attr('x1', p.sx[0]).attr('x2', p.sx[1]).attr('y1', p.scan).attr('y2', p.scan)
        .attr('stroke', '#f6e3de').attr('stroke-width', 2.2).attr('stroke-dasharray', '2.5 1.2');
    });

    // orange tags over the first column
    svg.append('rect').attr('x', 308).attr('y', 62).attr('width', 77).attr('height', 60).attr('fill', '#fdbb10');
    label(346, 105, 'FA', 37, { family: SERIF, weight: 'bold', anchor: 'middle' });
    svg.append('rect').attr('x', 304).attr('y', 426).attr('width', 84).attr('height', 61).attr('fill', '#fdbb10');
    label(346, 469, 'HA', 37, { family: SERIF, weight: 'bold', anchor: 'middle' });

    // colour bars
    const grad = defs.append('linearGradient').attr('id', 'afmBar').attr('x1', 0).attr('x2', 0).attr('y1', 1).attr('y2', 0);
    barStops.forEach((v, i) => grad.append('stop').attr('offset', v).attr('stop-color', barColors[i]));
    const bars = [
      { t: '17.6 nm', x: 704, w: 19, y0: 149, y1: 330, lx: 711, ly: 146 },
      { t: '13.8 nm', x: 1144, w: 20, y0: 149, y1: 330, lx: 1151, ly: 146 },
      { t: '18.4 nm', x: 1594, w: 20, y0: 149, y1: 330, lx: 1602, ly: 146 },
      { t: '17.1 nm', x: 706, w: 20, y0: 519, y1: 702, lx: 713, ly: 517 },
      { t: '35.1 nm', x: 1149, w: 20, y0: 519, y1: 703, lx: 1155, ly: 517 },
      { t: '12.7 nm', x: 1601, w: 20, y0: 519, y1: 706, lx: 1609, ly: 517 },
    ];
    bars.forEach(b => {
      svg.append('rect').attr('x', b.x).attr('y', b.y0).attr('width', b.w).attr('height', b.y1 - b.y0)
        .attr('fill', 'url(#afmBar)').attr('stroke', '#111').attr('stroke-width', 1.6);
      label(b.lx, b.ly, b.t, 16.5, { anchor: 'middle', fill: '#222' });
    });

    // serif captions
    label(328, 43, '(a)', 36, { family: SERIF, weight: 'bold' });
    label(479, 42, 'pH 5', 37, { family: SERIF, anchor: 'middle', fill: '#222' });
    label(924, 48, 'pH 7', 37, { family: SERIF, anchor: 'middle', fill: '#222' });
    label(1381, 45, 'pH 9', 37, { family: SERIF, anchor: 'middle', fill: '#222' });
    [
      { o: 313, r: 654, b: 812, hx: 478, hb: 828 },
      { o: 752, r: 1092, b: 812, hx: 912, hb: 832 },
      { o: 1203, r: 1559, b: 823, hx: 1381, hb: 846 },
    ].forEach(c => {
      label(c.o, c.b, '0', 26, { family: SERIF, anchor: 'middle', fill: '#222' });
      label(c.r, c.b, '2 um', 26, { family: SERIF, anchor: 'end', fill: '#222' });
      label(c.hx, c.hb, 'Height', 26, { family: SERIF, anchor: 'middle', fill: '#222' });
    });

    // ---------- shared frame and axes ----------
    const frame = (b: Box, headTop: number, headLeft: number = b.x0) => {
      svg.append('rect').attr('x', headLeft).attr('y', headTop).attr('width', b.x1 - headLeft).attr('height', b.y0 - headTop).attr('fill', HEADER);
    };
    const border = (b: Box) => {
      svg.append('rect').attr('x', b.x0).attr('y', b.y0).attr('width', b.x1 - b.x0).attr('height', b.y1 - b.y0)
        .attr('fill', 'none').attr('stroke', INK).attr('stroke-width', 2);
    };
    const styleAxis = (g: d3.Selection<SVGGElement, unknown, null, undefined>, size: number) => {
      g.attr('font-family', SANS).attr('font-size', size).attr('color', INK);
      g.select('.domain').remove();
      g.selectAll('.tick line').attr('stroke-width', 1.6);
      g.selectAll('.tick text').attr('fill', '#000');
    };
    const yAxis = (b: Box, axis: any, size = 28) => {
      const g = svg.append('g').attr('transform', `translate(${b.x0},0)`) as any;
      g.call(axis.tickSize(9).tickPadding(6));
      styleAxis(g, size);
      return g;
    };
    const xAxis = (b: Box, axis: any, size = 26, pad = 9) => {
      const g = svg.append('g').attr('transform', `translate(0,${b.y1})`) as any;
      g.call(axis.tickSize(9).tickPadding(pad));
      styleAxis(g, size);
      return g;
    };

    // ---------- (b) ----------
    const bBox: Box = { x0: 91, x1: 638, y0: 918, y1: 1357.5 };
    frame(bBox, 880);
    const bX = d3.scaleLinear().domain([0, 6]).range([bBox.x0, bBox.x1]);
    const bY = d3.scaleLinear().domain([0, 60]).range([bBox.y1, bBox.y0]);
    const bW = (bX(1) - bX(0)) * 0.72;
    svg.append('g').selectAll('rect').data(heightPct).join('rect')
      .attr('x', (_, i) => bX(i + 1) - bW / 2).attr('width', bW)
      .attr('y', d => bY(d)).attr('height', d => bY(0) - bY(d)).attr('fill', HEADER);
    heightPct.forEach((v, i) => label(bX(i + 1), bY(v) - 6, String(v), 27, { anchor: 'middle' }));
    border(bBox);
    yAxis(bBox, d3.axisLeft(bY).tickValues([0, 10, 20, 30, 40, 50, 60]));
    xAxis(bBox, d3.axisBottom(bX).tickValues([0, 1, 2, 3, 4, 5, 6]).tickFormat((d: any) => heightBins[d - 1] || ''));
    label(95, 909, '(b)', 29, { weight: 'bold' });
    label(358, 908, 'FA pH 5', 29, { weight: 'bold', anchor: 'middle' });
    label(365, 1430, 'Height distribution (nm)', 29.5, { weight: 'bold', anchor: 'middle' });
    label(33, 1137, 'Percentage (%)', 28.5, { weight: 'bold', anchor: 'middle', rotate: true });

    // ---------- (c) ----------
    const cBox: Box = { x0: 669, x1: 1215, y0: 921, y1: 1362 };
    frame(cBox, 883);
    const cX = d3.scaleLinear().domain([0.1, 4.9]).range([cBox.x0, cBox.x1]);
    const cY = d3.scaleLinear().domain([0, 60]).range([cBox.y1, cBox.y0]);
    const cW = (cX(1) - cX(0)) * 0.715;
    svg.append('g').selectAll('rect').data(diamPct).join('rect')
      .attr('x', (_, i) => cX(i + 1) - cW / 2).attr('width', cW)
      .attr('y', d => cY(d)).attr('height', d => cY(0) - cY(d)).attr('fill', HEADER);
    diamPct.forEach((v, i) => label(cX(i + 1), cY(v) - 6, String(v), 27.5, { anchor: 'middle' }));
    border(cBox);
    yAxis(cBox, d3.axisLeft(cY).tickValues([0, 10, 20, 30, 40, 50, 60]).tickFormat(() => ''));
    xAxis(cBox, d3.axisBottom(cX).tickValues([1, 2, 3, 4]).tickFormat((d: any) => diamBins[d - 1]));
    label(673, 908, '(c)', 29, { weight: 'bold' });
    label(927, 912, 'FA pH 5', 29, { weight: 'bold', anchor: 'middle' });
    label(942, 1444, 'Diameter distribution (nm)', 29.5, { weight: 'bold', anchor: 'middle' });

    // ---------- (d) ----------
    const dBox: Box = { x0: 1311, x1: 1858, y0: 917, y1: 1357 };
    frame(dBox, 878);
    const dX = d3.scaleLinear().domain([0, 300]).range([dBox.x0, dBox.x1]);
    const dY = d3.scaleLinear().domain([-10, 120]).range([dBox.y1, dBox.y0]);
    defs.append('clipPath').attr('id', 'clip-d').append('rect')
      .attr('x', dBox.x0).attr('y', dBox.y0).attr('width', dBox.x1 - dBox.x0).attr('height', dBox.y1 - dBox.y0);
    const dlsStyles = [
      { color: '#4f90bd', sym: d3.symbolSquare, size: 90, rot: 0 },
      { color: '#a3d5cd', sym: d3.symbolCircle, size: 95, rot: 0 },
      { color: '#b96b75', sym: d3.symbolTriangle, size: 72, rot: 0 },
      { color: '#d6bb82', sym: d3.symbolTriangle, size: 72, rot: 180 },
      { color: '#f1bf45', sym: d3.symbolSquare, size: 72, rot: 45 },
      { color: '#4a90c2', sym: d3.symbolTriangle, size: 72, rot: -90 },
    ];
    const dlsSeries: [number, number][][] = [
      faDiam.map((d, i) => [d, faPh5Int[i]] as [number, number]),
      fa7Diam.map((d, i) => [d, faPh7Int[i]] as [number, number]),
      faDiam.map((d, i) => [d, faPh9Int[i]] as [number, number]),
      ha5Diam.map((d, i) => [d, haPh5Int[i]] as [number, number]),
      haPh7,
      haPh9,
    ];
    const dPlot = svg.append('g').attr('clip-path', 'url(#clip-d)');
    dlsSeries.forEach((pts, si) => {
      const st = dlsStyles[si];
      const path = d3.symbol().type(st.sym).size(st.size)();
      dPlot.append('g').selectAll('path').data(pts).join('path')
        .attr('d', path)
        .attr('fill', st.color)
        .attr('transform', d => `translate(${dX(d[0])},${dY(d[1])}) rotate(${st.rot})`);
    });
    border(dBox);
    yAxis(dBox, d3.axisLeft(dY).tickValues([0, 40, 80, 120]), 27);
    xAxis(dBox, d3.axisBottom(dX).tickValues([0, 100, 200, 300]));
    const dLegY = d3.scalePoint<string>().domain(dlsNames).range([942, 1120.6]);
    dlsNames.forEach((n, i) => {
      const st = dlsStyles[i];
      svg.append('path').attr('d', d3.symbol().type(st.sym).size(st.size)())
        .attr('fill', st.color).attr('transform', `translate(1685,${dLegY(n)}) rotate(${st.rot})`);
      label(1727, (dLegY(n) as number) + 10, n, 28);
    });
    label(1314, 906, '(d)', 29, { weight: 'bold' });
    label(1584, 1432, 'Hydrodynamic diameter (nm)', 29, { weight: 'bold', anchor: 'middle' });
    label(1244, 1136, 'Intensity %', 28.5, { weight: 'bold', anchor: 'middle', rotate: true });

    // ---------- (e) ----------
    const eBox: Box = { x0: 81.5, x1: 633, y0: 1488, y1: 1931 };
    frame(eBox, 1449);
    const eX = d3.scaleLinear().domain([4, 10]).range([eBox.x0, eBox.x1]);
    const eY = d3.scaleLinear().domain([-70, -30]).range([eBox.y1, eBox.y0]);
    const zetaSeries = [
      { name: 'FA', vals: zetaFA, color: '#1b8057', sym: d3.symbolSquare, size: 400 },
      { name: 'HA', vals: zetaHA, color: '#b5851c', sym: d3.symbolCircle, size: 346 },
    ];
    const zLine = d3.line<number>().x((_, i) => eX(phLevels[i])).y(d => eY(d));
    zetaSeries.forEach((s, si) => {
      svg.append('path').attr('d', zLine(s.vals)).attr('fill', 'none').attr('stroke', s.color).attr('stroke-width', 2.6);
      const path = d3.symbol().type(s.sym).size(s.size)();
      svg.append('g').selectAll('path').data(s.vals).join('path')
        .attr('d', path).attr('fill', s.color).attr('stroke', '#fff').attr('stroke-width', 10).attr('paint-order', 'stroke')
        .attr('transform', (d, i) => `translate(${eX(phLevels[i])},${eY(d)})`);
      s.vals.forEach((v, i) => label(eX(phLevels[i]) + 9.5, eY(v) - 18, v.toFixed(2), 27));
      const ly = [1514.6, 1550.5][si];
      svg.append('line').attr('x1', 510).attr('x2', 575.5).attr('y1', ly).attr('y2', ly).attr('stroke', s.color).attr('stroke-width', 2.6);
      svg.append('path').attr('d', path).attr('fill', s.color).attr('stroke', '#fff').attr('stroke-width', 7).attr('paint-order', 'stroke')
        .attr('transform', `translate(542.5,${ly})`);
      label(584, ly + 10, s.name, 28);
    });
    border(eBox);
    yAxis(eBox, d3.axisLeft(eY).tickValues([-40, -60]).tickFormat((d: any) => '\u2212' + Math.abs(d)), 27);
    xAxis(eBox, d3.axisBottom(eX).tickValues(phLevels).tickFormat(d3.format('d')), 27, 9);
    label(86, 1478, '(e)', 29, { weight: 'bold' });
    label(356, 1478, 'Zeta Potential (mV)', 29, { weight: 'bold', anchor: 'middle' });
    label(354, 1994, 'pH', 29, { weight: 'bold', anchor: 'middle' });

    // ---------- (f) (g) ----------
    const specColors = ['#7f7f7f', '#f87274', '#69a51c'];
    const waveLabel = (cx: number) => {
      const t = label(cx, 2014, 'Wavenumber (cm', 29, { weight: 'bold', anchor: 'middle' });
      t.append('tspan').attr('dy', -11).attr('font-size', 19).text('-1');
      t.append('tspan').attr('dy', 11).text(')');
    };
    const spectra = (b: Box, series: [number, number][][], order: number[], id: string) => {
      const x = d3.scaleLinear().domain([4000, 900]).range([b.x0, b.x1]);
      const y = d3.scaleLinear().domain([-2, 18]).range([b.y1, b.y0]);
      defs.append('clipPath').attr('id', id).append('rect').attr('x', b.x0).attr('y', b.y0).attr('width', b.x1 - b.x0).attr('height', b.y1 - b.y0);
      const line = d3.line<[number, number]>().x(d => x(d[0])).y(d => y(d[1])).curve(d3.curveCatmullRom.alpha(0.5));
      const g = svg.append('g').attr('clip-path', `url(#${id})`);
      order.forEach(i => {
        g.append('path').attr('d', line(series[i])).attr('fill', 'none')
          .attr('stroke', specColors[i]).attr('stroke-width', 3.6).attr('stroke-linejoin', 'round');
      });
      return { x, y };
    };

    const fBox: Box = { x0: 746, x1: 1294, y0: 1487, y1: 1928 };
    frame(fBox, 1448.5);
    const f = spectra(fBox, [fPh5, fPh7, fPh9], [0, 1, 2], 'clip-f');
    border(fBox);
    yAxis(fBox, d3.axisLeft(f.y).tickValues(absorbTicks).tickFormat((d: any) => (d / 1000).toFixed(3)), 26.5).selectAll('.tick text').attr('dx', 7);
    xAxis(fBox, d3.axisBottom(f.x).tickValues(waveTicks).tickFormat(d3.format('d'))).selectAll('.tick text').attr('dx', -6);
    label(749, 1476.5, '(f) FA', 29, { weight: 'bold' });
    waveLabel(1020);
    label(664, 1707, 'Absorbance', 28.5, { weight: 'bold', anchor: 'middle', rotate: true });
    specNames.forEach((n, i) => {
      const ly = [1503, 1534, 1566][i];
      svg.append('line').attr('x1', 759).attr('x2', 792.6).attr('y1', ly).attr('y2', ly).attr('stroke', specColors[i]).attr('stroke-width', 4);
      label(811, ly + 9, n, 24.5, { weight: 'bold' });
    });
    // dashed guides: [wavenumber, top, bottom]
    const guides = [[3394, 13.89, 0.68], [1653, 12.29, 3.36], [1608, 11.7, 1.93], [1378, 11.2, -0.84], [1243, 11, -1.02]];
    svg.append('g').selectAll('line').data(guides).join('line')
      .attr('x1', d => f.x(d[0])).attr('x2', d => f.x(d[0]))
      .attr('y1', d => f.y(d[1])).attr('y2', d => f.y(d[2]))
      .attr('stroke', '#111').attr('stroke-width', 1.8).attr('stroke-dasharray', '9 5');
    label(1217.5, 1572.5, 'Carboxylic', 25, { anchor: 'middle' });
    label(1221, 1603, 'C-O or \u2013OH', 25, { anchor: 'middle' });
    label(1177, 1633.5, '1384', 24);
    label(1234, 1633.5, '1206', 24);
    label(1105.5, 1829.5, '1638', 24);
    label(1148, 1862, '1608', 24);
    label(1025.5, 1888.5, 'Carboxylic C=O', 24.7);
    label(760, 1897, 'Phenolic -OH', 24.7);
    label(811, 1919, '3420', 24);

    const gBox: Box = { x0: 1313.5, x1: 1860, y0: 1488, y1: 1928 };
    frame(gBox, 1449, 1312);
    const gp = spectra(gBox, [gPh5, gPh7, gPh9], [2, 1, 0], 'clip-g');
    border(gBox);
    yAxis(gBox, d3.axisLeft(gp.y).tickValues(absorbTicks).tickFormat(() => ''));
    xAxis(gBox, d3.axisBottom(gp.x).tickValues(waveTicks).tickFormat(d3.format('d'))).selectAll('.tick text').attr('dx', 16);
    label(1318, 1477, '(g) HA', 29, { weight: 'bold' });
    waveLabel(1587);
  }, []);

  return (
    <svg
      ref={svgRef}
      width={1890}
      height={2047}
      style={{ display: 'block', position: 'absolute', left: 0, top: 0, background: '#fff' }}
    />
  );
};

export default App;
